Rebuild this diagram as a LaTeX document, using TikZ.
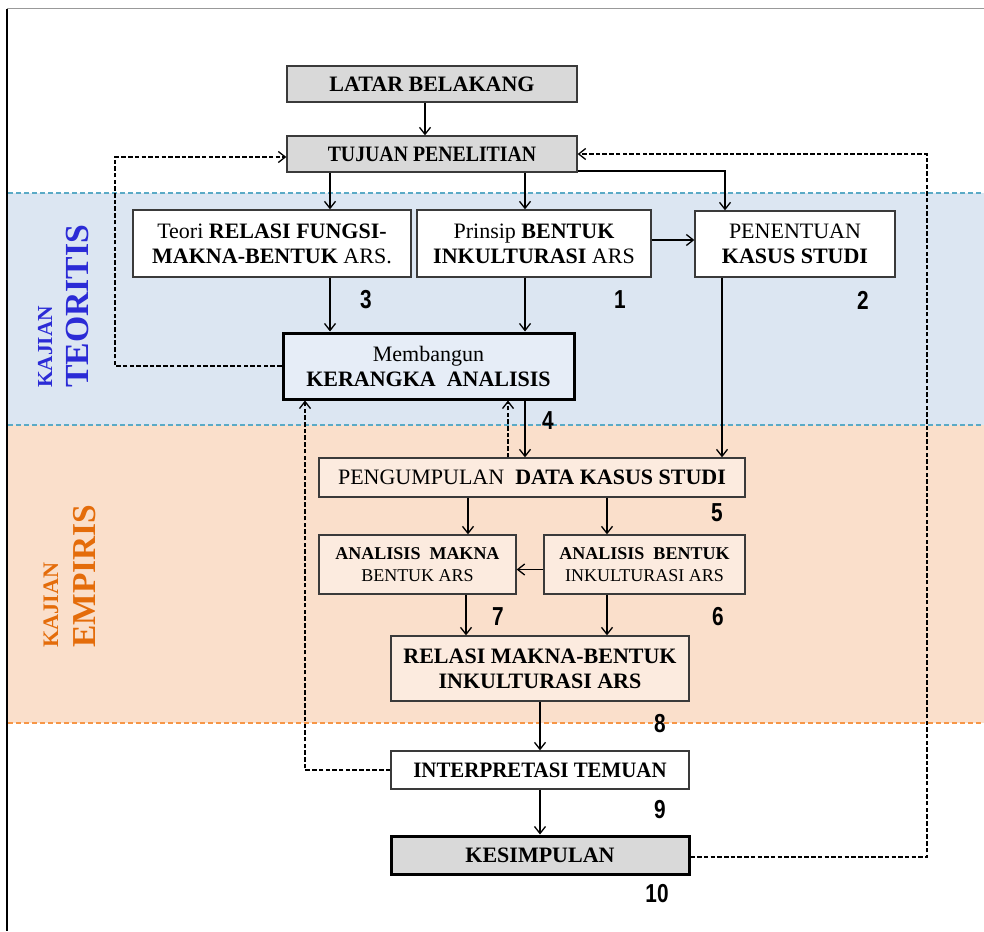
\documentclass[tikz,border=0pt]{standalone}
\usepackage{fontspec}
\setmainfont{Liberation Serif}
\newfontfamily\numfont{Liberation Sans}
\usetikzlibrary{arrows.meta,calc}
\definecolor{bandblue}{HTML}{DCE6F2}
\definecolor{bandorange}{HTML}{FADFCB}
\definecolor{boxorange}{HTML}{FCEBDF}
\definecolor{boxblue}{HTML}{E6EDF7}
\definecolor{boxgray}{HTML}{D9D9D9}
\definecolor{boxline}{HTML}{3A3A3A}
\definecolor{tealline}{HTML}{5AAAC6}
\definecolor{orangeline}{HTML}{F79646}
\definecolor{kblue}{HTML}{2B2BD6}
\definecolor{korange}{HTML}{E46C0A}
\begin{document}
\begin{tikzpicture}[x=1pt,y=-1pt,
  box/.style={draw=boxline, line width=1.3pt, inner sep=0pt, align=center,
    font=\fontsize{22}{25}\selectfont},
  smallbox/.style={box, font=\fontsize{18}{22}\selectfont},
  thickbox/.style={box, line width=3pt, draw=black},
  arr/.style={line width=1.4pt, -{Straight Barb[length=7pt,width=11pt,line width=1.3pt]}},
  darr/.style={arr, dash pattern=on 4.5pt off 2.2pt},
  numlabel/.style={inner sep=0pt, font=\numfont\bfseries\fontsize{26}{26}\selectfont},
  sidetitle/.style={rotate=90, anchor=base west, inner sep=0pt},
  bandline/.style={line width=1.2pt, dash pattern=on 5pt off 3pt}]
\useasboundingbox (0,0) rectangle (984,931);
\fill[white] (0,0) rectangle (984,931);
% bands
\fill[bandblue] (8,193) rectangle (984,425);
\fill[bandorange] (8,425) rectangle (984,723);
\draw[bandline, tealline] (8,193) -- (984,193);
\draw[bandline, tealline] (8,425) -- (984,425);
\draw[bandline, orangeline] (8,723) -- (984,723);
% frame
\draw[line width=1pt, gray!80] (7,9) -- (984,9);
\draw[line width=1.4pt, black] (7,9) -- (7,931);
% side titles
\node[sidetitle, text=kblue] (kaj1) at (52,388) {\resizebox{82pt}{!}{\textbf{KAJIAN}}};
\node[sidetitle, text=kblue] (teoritis) at (88,388) {\resizebox{163pt}{!}{\textbf{TEORITIS}}};
\node[sidetitle, text=korange] (kaj2) at (58,648) {\resizebox{85pt}{!}{\textbf{KAJIAN}}};
\node[sidetitle, text=korange] (empiris) at (95,648) {\resizebox{143pt}{!}{\textbf{EMPIRIS}}};
% nodes
\node[box, fill=boxgray, minimum width=290pt, minimum height=36pt] (latar) at (432,84) {\textbf{LATAR BELAKANG}};
\node[box, fill=boxgray, minimum width=290pt, minimum height=36pt] (tujuan) at (432,154) {\scalebox{0.9}[1]{\textbf{TUJUAN PENELITIAN}}};
\node[box, fill=white, minimum width=278pt, minimum height=67pt] (teori) at (272,243.5) {Teori \textbf{RELASI FUNGSI-}\\\textbf{MAKNA-BENTUK} ARS.};
\node[box, fill=white, minimum width=234pt, minimum height=67pt] (prinsip) at (534,243.5) {Prinsip \textbf{BENTUK}\\\textbf{INKULTURASI} ARS};
\node[box, fill=white, minimum width=200pt, minimum height=66pt] (penentuan) at (795,244) {PENENTUAN\\\textbf{KASUS STUDI}};
\node[thickbox, fill=boxblue, minimum width=291pt, minimum height=66pt] (kerangka) at (428.5,366) {Membangun\\\textbf{KERANGKA\ \ ANALISIS}};
\node[box, fill=boxorange, minimum width=426pt, minimum height=39pt] (pengumpulan) at (532,477.5) {PENGUMPULAN\ \ \textbf{DATA KASUS STUDI}};
\node[smallbox, fill=boxorange, minimum width=197pt, minimum height=59pt] (makna) at (417.5,564.5) {\textbf{ANALISIS\ \ MAKNA}\\BENTUK ARS};
\node[smallbox, fill=boxorange, minimum width=201pt, minimum height=59pt] (bentuk) at (644.5,564.5) {\textbf{ANALISIS\ \ BENTUK}\\INKULTURASI ARS};
\node[box, fill=boxorange, minimum width=298pt, minimum height=65pt] (relasi) at (540,668.5) {\textbf{RELASI MAKNA-BENTUK}\\\textbf{INKULTURASI ARS}};
\node[box, fill=white, minimum width=298pt, minimum height=38pt] (interp) at (540,770) {\scalebox{0.95}[1]{\textbf{INTERPRETASI TEMUAN}}};
\node[thickbox, fill=boxgray, minimum width=298pt, minimum height=38pt] (kesimp) at (540,855) {\textbf{KESIMPULAN}};
% number labels
\node[numlabel] (n3) at (366,300) {\scalebox{0.8}[1]{3}};
\node[numlabel] (n1) at (620,300) {\scalebox{0.8}[1]{1}};
\node[numlabel] (n2) at (863,300) {\scalebox{0.8}[1]{2}};
\node[numlabel] (n4) at (548,421) {\scalebox{0.8}[1]{4}};
\node[numlabel] (n5) at (717,513) {\scalebox{0.8}[1]{5}};
\node[numlabel] (n6) at (718,617) {\scalebox{0.8}[1]{6}};
\node[numlabel] (n7) at (498,617) {\scalebox{0.8}[1]{7}};
\node[numlabel] (n8) at (660,724) {\scalebox{0.8}[1]{8}};
\node[numlabel] (n9) at (660,810) {\scalebox{0.8}[1]{9}};
\node[numlabel] (n10) at (657,894) {\scalebox{0.8}[1]{10}};
% column / row helper coordinates
\coordinate (x330) at (330,0);
\coordinate (x425) at (425,0);
\coordinate (x525) at (525,0);
\coordinate (x508) at (508,0);
\coordinate (x722) at (722,0);
\coordinate (x725) at (725,0);
\coordinate (x468) at (468,0);
\coordinate (x466) at (466,0);
\coordinate (x607) at (607,0);
\coordinate (x540) at (540,0);
\coordinate (xl) at (115,0);
\coordinate (xm) at (305,0);
\coordinate (xr) at (927,0);
\coordinate (y240) at (0,240);
\coordinate (y171) at (0,171);
% solid connectors
\draw[arr] (latar.south -| x425) -- (tujuan.north -| x425);
\draw[arr] (tujuan.south -| x330) -- (teori.north -| x330);
\draw[arr] (tujuan.south -| x525) -- (prinsip.north -| x525);
\draw[arr] (tujuan.east |- y171) -| (penentuan.north -| x725);
\draw[arr] (teori.south -| x330) -- (kerangka.north -| x330);
\draw[arr] (prinsip.south -| x525) -- (kerangka.north -| x525);
\draw[arr] (prinsip.east |- y240) -- (penentuan.west |- y240);
\draw[arr] (penentuan.south -| x722) -- (pengumpulan.north -| x722);
\draw[arr] (kerangka.south -| x525) -- (pengumpulan.north -| x525);
\draw[darr] (pengumpulan.north -| x508) -- (kerangka.south -| x508);
\draw[arr] (pengumpulan.south -| x468) -- (makna.north -| x468);
\draw[arr] (pengumpulan.south -| x607) -- (bentuk.north -| x607);
\draw[arr] ([yshift=-5pt]bentuk.west) -- ([yshift=-5pt]makna.east);
\draw[arr] (makna.south -| x466) -- (relasi.north -| x466);
\draw[arr] (bentuk.south -| x607) -- (relasi.north -| x607);
\draw[arr] (relasi.south -| x540) -- (interp.north -| x540);
\draw[arr] (interp.south -| x540) -- (kesimp.north -| x540);
% dashed feedback loops
\draw[darr] (kerangka.west) -| ([yshift=-3pt]tujuan.west -| xl) -- ([yshift=-3pt]tujuan.west);
\draw[darr] (interp.west) -| (kerangka.south -| xm);
\draw[darr] ([yshift=-2pt]kesimp.east) -| (tujuan.east -| xr) -- (tujuan.east);
\end{tikzpicture}
\end{document}
